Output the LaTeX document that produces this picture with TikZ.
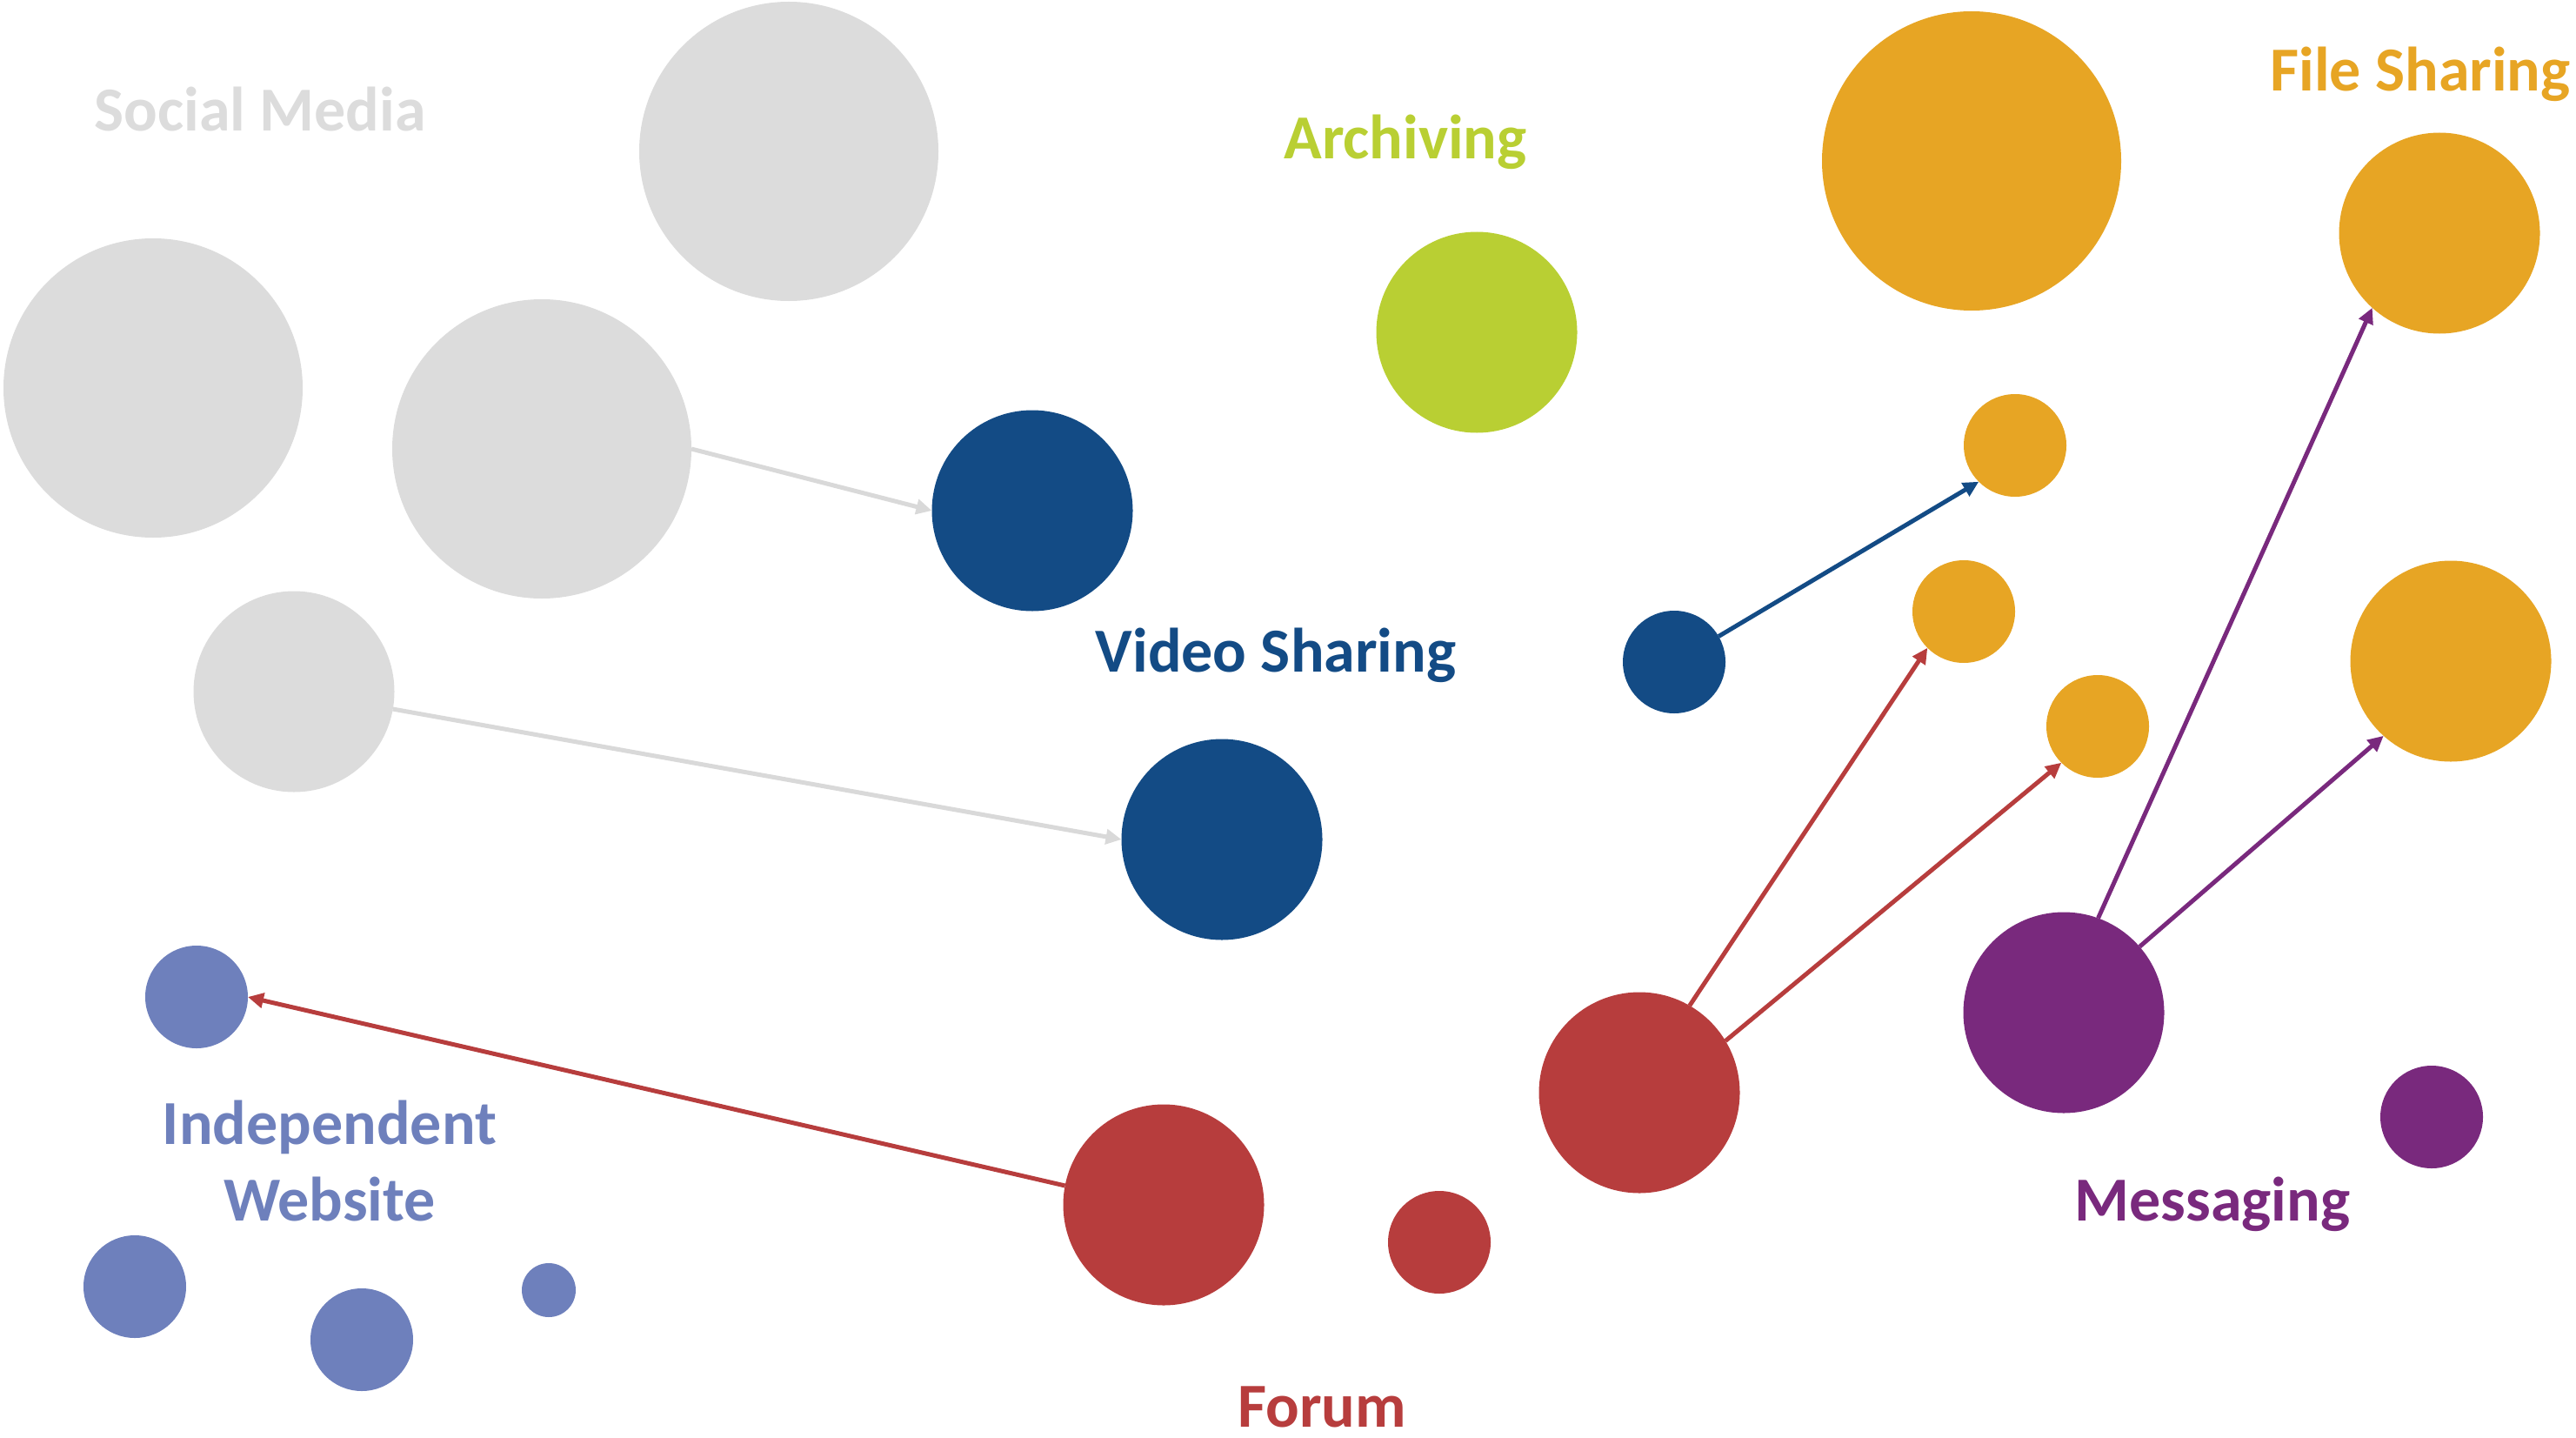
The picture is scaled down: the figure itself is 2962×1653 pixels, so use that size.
\documentclass[tikz,border=0pt]{standalone}
\usepackage{fontspec}
\setmainfont{Carlito}
\usetikzlibrary{arrows.meta}
\definecolor{cgray}{HTML}{DCDCDC}
\definecolor{carrowgray}{HTML}{D9D9D9}
\definecolor{cblue}{HTML}{134B85}
\definecolor{cgreen}{HTML}{B9CF33}
\definecolor{corange}{HTML}{E7A524}
\definecolor{cpurple}{HTML}{79297D}
\definecolor{cred}{HTML}{B73D3D}
\definecolor{cindep}{HTML}{6E80BC}
\tikzset{
  bub/.style={circle, draw=none, inner sep=0pt, outer sep=0pt},
  big/.style={bub, minimum size=344pt},
  med/.style={bub, minimum size=231pt},
  sml/.style={bub, minimum size=118pt},
  tny/.style={bub, minimum size=62pt},
  lab/.style={font=\fontsize{72}{88}\selectfont\bfseries, anchor=base, inner sep=0pt, align=center},
  conn/.style={line width=5pt, -{Triangle[length=18pt,width=17pt]}},
}
\begin{document}
\begin{tikzpicture}[x=1pt,y=-1pt]
\useasboundingbox (0,0) rectangle (2962,1653);
% Social media
\node[big, fill=cgray] (s1) at (907,174) {};
\node[big, fill=cgray] (s2) at (176,446) {};
\node[big, fill=cgray] (s3) at (623,516) {};
\node[med, fill=cgray] (s4) at (338,795) {};
% Video sharing
\node[med, fill=cblue] (v1) at (1187,587) {};
\node[med, fill=cblue] (v2) at (1405,965) {};
\node[sml, fill=cblue] (v3) at (1925,761) {};
% Archiving
\node[med, fill=cgreen] (a1) at (1698,382) {};
% File sharing
\node[big, fill=corange] (f1) at (2267,185) {};
\node[med, fill=corange] (f2) at (2805,268) {};
\node[sml, fill=corange] (f3) at (2317,512) {};
\node[sml, fill=corange] (f4) at (2258,703) {};
\node[sml, fill=corange] (f5) at (2412,835) {};
\node[med, fill=corange] (f6) at (2818,760) {};
% Messaging
\node[med, fill=cpurple] (m1) at (2373,1164) {};
\node[sml, fill=cpurple] (m2) at (2796,1284) {};
% Forum
\node[med, fill=cred] (r1) at (1338,1385) {};
\node[med, fill=cred] (r2) at (1885,1256) {};
\node[sml, fill=cred] (r3) at (1655,1428) {};
% Independent website
\node[sml, fill=cindep] (i1) at (226,1146) {};
\node[sml, fill=cindep] (i2) at (155,1479) {};
\node[sml, fill=cindep] (i3) at (416,1540) {};
\node[tny, fill=cindep] (i4) at (631,1483) {};
% Labels
\node[lab, text=cgray] (lsm) at (299,151) {Social Media};
\node[lab, text=cblue] (lvs) at (1467,772) {Video Sharing};
\node[lab, text=cgreen] (lar) at (1616,183) {Archiving};
\node[lab, text=corange] (lfs) at (2783,105) {File Sharing};
\node[lab, text=cpurple] (lms) at (2544,1403) {Messaging};
\node[lab, text=cred] (lfo) at (1520,1640) {Forum};
\node[lab, text=cindep] (liw) at (379,1403) {Independent\\Website};
% Connectors
\draw[conn, carrowgray] (s3.east) -- (v1.west);
\draw[conn, carrowgray] (s4.-10) -- (v2.west);
\draw[conn, cblue] (v3.30) -- (f3.225);
\draw[conn, cred] (r2.60) -- (f4.225);
\draw[conn, cred] (r2.31) -- (f5.225);
\draw[conn, cred] (r1.169) -- (i1.east);
\draw[conn, cpurple] (m1.70) -- (f2.228);
\draw[conn, cpurple] (m1.41) -- (f6.228);
\end{tikzpicture}
\end{document}
